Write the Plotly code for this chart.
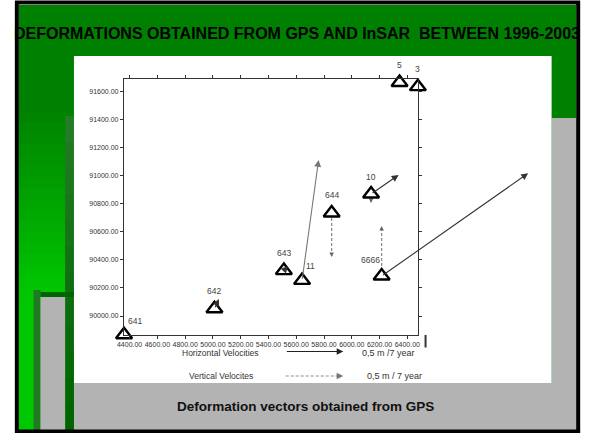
import plotly.graph_objects as go

# ---------------- data ----------------
stations = ["641", "642", "643", "11", "644", "10", "6666", "5", "3"]
east = [4360, 5011, 5511, 5642, 5855, 6139, 6215, 6344, 6476]
north = [89866, 90052, 90324, 90254, 90735, 90870, 90285, 91666, 91636]

# horizontal velocity vectors (map units, scaled) dE, dN
h_de = [0, 32, 30, 119, -9, 198, 1055, 0, 0]
h_dn = [0, 69, 32, 859, -14, 136, 733, 0, 0]
# vertical velocity vectors (drawn along north axis)
v_du = [0, 0, -18, -33, -314, -64, 357, 0, 0]

x_ticks = [4400, 4600, 4800, 5000, 5200, 5400, 5600, 5800, 6000, 6200, 6400]
y_ticks = [90000, 90200, 90400, 90600, 90800, 91000, 91200, 91400, 91600]

title_text = "DEFORMATIONS OBTAINED FROM GPS AND InSAR  BETWEEN 1996-2003"
caption_text = "Deformation vectors obtained from GPS"
legend_h = "Horizontal Velocities"
legend_v = "Vertical Velocites"
scale_h = "0,5 m /7 year"
scale_v = "0,5 m / 7 year"

# ---------------- layout helpers ----------------
W, H = 593, 433
def px(x):
    return x / W
def py(y):
    return 1 - y / H

FONT = "Arial, Liberation Sans, sans-serif"

fig = go.Figure()

# dashed vertical velocity arrows
vx, vy, tipx, tipy, tipsym = [], [], [], [], []
for e, n, du in zip(east, north, v_du):
    if du == 0:
        continue
    vx += [e, e, None]
    vy += [n, n + du, None]
    tipx.append(e)
    tipy.append(n + du)
    tipsym.append("arrow-down" if du < 0 else "arrow-up")

fig.add_trace(go.Scatter(x=vx, y=vy, mode="lines",
                         line=dict(color="#8c8c8c", width=1.3, dash="3px,2px"),
                         hoverinfo="skip", showlegend=False))
fig.add_trace(go.Scatter(x=tipx, y=tipy, mode="markers",
                         marker=dict(symbol=tipsym, size=4.5, color="#666666",
                                     line=dict(width=0)),
                         cliponaxis=False, hoverinfo="skip", showlegend=False))

# station triangles
fig.add_trace(go.Scatter(x=east, y=north, mode="markers",
                         marker=dict(symbol="triangle-up", size=14, color="white",
                                     line=dict(color="black", width=2.4)),
                         cliponaxis=False, hoverinfo="skip", showlegend=False))

annotations = []
# horizontal velocity arrows (solid)
for s, e, n, de, dn in zip(stations, east, north, h_de, h_dn):
    if de == 0 and dn == 0:
        continue
    col = "#777777" if s == "11" else "#333333"
    annotations.append(dict(x=e + de, y=n + dn, ax=e, ay=n, xref="x", yref="y",
                            axref="x", ayref="y", text="", showarrow=True,
                            arrowhead=2, arrowsize=1.25, arrowwidth=1.1,
                            arrowcolor=col, standoff=0, startstandoff=0))

# station labels
label_shift = {"641": (11, 14), "11": (8.5, 14), "6666": (-11, 16)}
for s, e, n in zip(stations, east, north):
    dx, dy = label_shift.get(s, (0, 17.5))
    annotations.append(dict(x=e, y=n, xref="x", yref="y", text=s, showarrow=False,
                            xshift=dx, yshift=dy, xanchor="center", yanchor="middle",
                            font=dict(family=FONT, size=8.5, color="#444444")))

def ptext(x, y, text, size, color="#333333"):
    annotations.append(dict(x=px(x), y=py(y), xref="paper", yref="paper",
                            text=text, showarrow=False, xanchor="center",
                            yanchor="middle",
                            font=dict(family=FONT, size=size, color=color)))

# title and caption
ptext(294.5, 33, "<b>" + title_text + "</b>", 16, "black")
ptext(303, 406, "<b>" + caption_text + "</b>", 13.5, "#111111")

# legend
ptext(216.5, 352.5, legend_h, 8.5)
ptext(217, 376, legend_v, 8.5)
ptext(387, 352.5, scale_h, 9)
ptext(393, 376, scale_v, 9)
annotations.append(dict(x=px(341.5), y=py(351.5), xref="paper", yref="paper",
                        ax=-58, ay=0, text="", showarrow=True, arrowhead=2,
                        arrowsize=1.2, arrowwidth=1.1, arrowcolor="#222222",
                        standoff=0))
annotations.append(dict(x=px(341.5), y=py(376), xref="paper", yref="paper",
                        ax=-4, ay=0, text="", showarrow=True, arrowhead=2,
                        arrowsize=1.2, arrowwidth=1.1, arrowcolor="#777777",
                        standoff=0))

# ---------------- background shapes ----------------
shapes = []
def rect(x0, y0, x1, y1, color):
    shapes.append(dict(type="rect", xref="paper", yref="paper",
                       x0=px(x0), x1=px(x1), y0=py(y1), y1=py(y0),
                       fillcolor=color, line=dict(width=0), layer="below"))

rect(12, 5, 578, 430, "#008000")
# left vertical gradient strip
n_st = 30
for i in range(n_st):
    y0 = 100 + i * (330 / n_st)
    t = min(1.0, i / (n_st * 0.58))
    g = int(128 + (200 - 128) * t)
    rect(12, y0, 68, y0 + 330 / n_st + 0.6, "rgb(0,%d,0)" % g)
# dark green bar
n_b = 12
for i in range(n_b):
    y0 = 116 + i * (314 / n_b)
    t = i / (n_b - 1)
    r = int(36 - 36 * t)
    g = int(124 - 24 * t)
    rect(59, y0, 68, y0 + 314 / n_b + 0.6, "rgb(%d,%d,%d)" % (r, g, r))
rect(27, 290, 34, 430, "#217a21")
rect(34, 297, 59, 430, "#b3b3b3")
rect(34, 292, 68, 297, "#006400")
rect(553, 118, 578, 430, "#b3b3b3")
rect(68, 383, 578, 430, "#b3b3b3")
rect(68, 56, 553, 383, "white")
# black frame
shapes.append(dict(type="rect", xref="paper", yref="paper",
                   x0=px(10), x1=px(580), y0=py(431.5), y1=py(2.5),
                   line=dict(color="black", width=4), fillcolor="rgba(0,0,0,0)",
                   layer="below"))
# legend dashed line and end bar
shapes.append(dict(type="line", xref="paper", yref="paper",
                   x0=px(283), x1=px(338), y0=py(376), y1=py(376),
                   line=dict(color="#8c8c8c", width=1, dash="3px,2px")))
shapes.append(dict(type="line", xref="paper", yref="paper",
                   x0=px(425), x1=px(425), y0=py(335), y1=py(347.5),
                   line=dict(color="#333333", width=2)))

axis_common = dict(showline=True, linecolor="#333333", linewidth=1, mirror="ticks",
                   ticks="outside", ticklen=3, tickcolor="#333333", tickwidth=1,
                   showgrid=False, zeroline=False, tickformat=".2f",
                   tickfont=dict(family=FONT, size=7, color="#333333"))

fig.update_layout(
    width=W, height=H, margin=dict(l=0, r=0, t=0, b=0),
    paper_bgcolor="white", plot_bgcolor="rgba(0,0,0,0)",
    xaxis=dict(domain=[px(118.7), px(417.5)], range=[4358.9, 6478],
               tickvals=x_ticks, **axis_common),
    yaxis=dict(domain=[py(335), py(79.3)], range=[89864.5, 91688.5],
               tickvals=y_ticks, **axis_common),
    shapes=shapes, annotations=annotations, showlegend=False,
)

fig.write_html("out.html", config={"displayModeBar": False},
               post_script="document.body.style.margin='0';"
                           "document.body.style.overflow='hidden';")
